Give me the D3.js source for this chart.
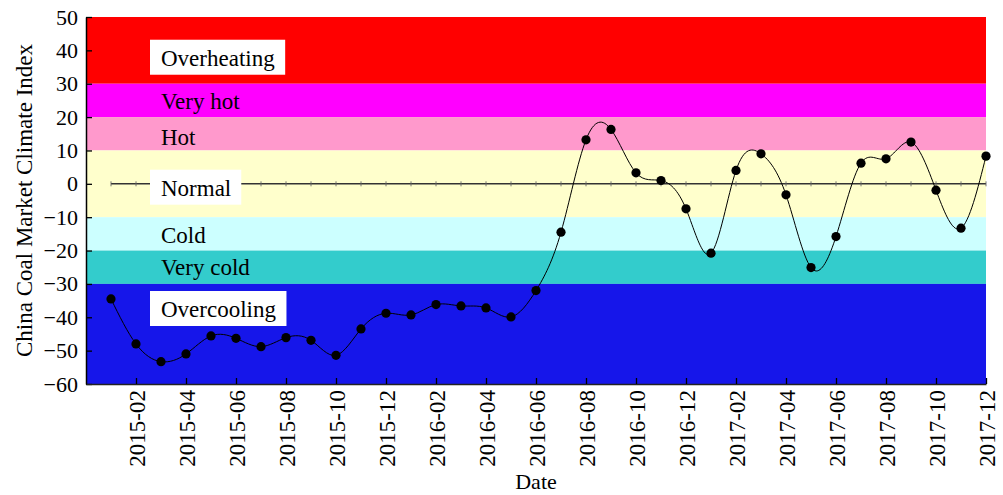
<!DOCTYPE html>
<html>
<head>
<meta charset="utf-8">
<script src="https://cdn.jsdelivr.net/npm/d3@7/dist/d3.min.js"></script>
<style>
  html, body { margin: 0; padding: 0; background: #fff; }
  svg { display: block; }
  text { font-family: "Liberation Serif", "Times New Roman", serif; fill: #000; }
</style>
</head>
<body>
<svg id="chart" width="1003" height="495"></svg>
<script>
// Monthly China Coal Market Climate Index, 2015-01 .. 2017-12
const months = [
  "2015-01","2015-02","2015-03","2015-04","2015-05","2015-06","2015-07","2015-08","2015-09","2015-10","2015-11","2015-12",
  "2016-01","2016-02","2016-03","2016-04","2016-05","2016-06","2016-07","2016-08","2016-09","2016-10","2016-11","2016-12",
  "2017-01","2017-02","2017-03","2017-04","2017-05","2017-06","2017-07","2017-08","2017-09","2017-10","2017-11","2017-12"
];
const indexValues = [
  -34.5, -48.0, -53.3, -51.0, -45.6, -46.3, -48.8, -46.1, -46.9, -51.4, -43.5, -38.8,
  -39.3, -36.2, -36.6, -37.2, -39.9, -32.0, -14.5, 13.2, 16.3, 3.3, 1.0, -7.5,
  -20.8, 4.0, 9.0, -3.3, -25.1, -15.8, 6.2, 7.5, 12.5, -1.9, -13.3, 8.3
];

// Climate zones (lower bound, upper bound)
const zoneNames  = ["Overheating", "Very hot", "Hot", "Normal", "Cold", "Very cold", "Overcooling"];
const zoneLow    = [30, 20, 10, -10, -20, -30, -60];
const zoneHigh   = [50, 30, 20, 10, -10, -20, -30];
const zoneColors = ["#ff0000", "#ff00ff", "#ff99cc", "#ffffcc", "#ccffff", "#33cccc", "#1616ea"];
const zoneBoxed  = [true, false, false, true, false, false, true];

const yTicks = [-60, -50, -40, -30, -20, -10, 0, 10, 20, 30, 40, 50];
const xTickLabels = ["2015-02","2015-04","2015-06","2015-08","2015-10","2015-12","2016-02","2016-04",
  "2016-06","2016-08","2016-10","2016-12","2017-02","2017-04","2017-06","2017-08","2017-10","2017-12"];

const svg = d3.select("#chart");
const plotLeft = 86, plotRight = 986, plotTop = 17, plotBottom = 384;

// month index: 0 = 2014-12, 1 = 2015-01, ... 36 = 2017-12
const monthIndex = m => { const [yy, mm] = m.split("-").map(Number); return (yy - 2014) * 12 + mm - 12; };

const x = d3.scaleLinear().domain([0, 36]).range([plotLeft, plotRight]);
const y = d3.scaleLinear().domain([-60, 50]).range([plotBottom, plotTop]);

// zone bands
const zones = zoneNames.map((n, i) => ({ name: n, lo: zoneLow[i], hi: zoneHigh[i], color: zoneColors[i], boxed: zoneBoxed[i] }));
svg.append("g").selectAll("rect").data(zones).join("rect")
  .attr("x", x(0)).attr("width", x(36) - x(0))
  .attr("y", d => y(d.hi)).attr("height", d => y(d.lo) - y(d.hi))
  .attr("fill", d => d.color);

// zero reference line with small monthly ticks
const zeroG = svg.append("g");
zeroG.append("line")
  .attr("x1", x(1)).attr("x2", x(36)).attr("y1", y(0)).attr("y2", y(0))
  .attr("stroke", "#333").attr("stroke-width", 1.4);
zeroG.selectAll("line.mt").data(d3.range(1, 37)).join("line").attr("class", "mt")
  .attr("x1", d => x(d)).attr("x2", d => x(d))
  .attr("y1", y(0) - 2.5).attr("y2", y(0) + 2.5)
  .attr("stroke", "#666").attr("stroke-width", 0.9);

// zone labels (baseline offsets above each band's lower edge)
const labelOffset = { "Overheating": 18, "Very hot": 8, "Hot": 5.5, "Normal": 21.5, "Cold": 7.5, "Very cold": 9, "Overcooling": 67 };
const labelG = svg.append("g");
zones.forEach(z => {
  const g = labelG.append("g");
  const t = g.append("text")
    .attr("x", x(3)).attr("y", y(z.lo) - labelOffset[z.name])
    .attr("font-size", 23).text(z.name);
  if (z.boxed) {
    const b = t.node().getBBox();
    g.insert("rect", "text")
      .attr("x", b.x - 11).attr("y", b.y - 6)
      .attr("width", b.width + 21).attr("height", b.height + 10)
      .attr("fill", "#fff");
  }
});

// index curve and markers
const pts = months.map((m, i) => ({ i: monthIndex(m), v: indexValues[i] }));
svg.append("path").datum(pts)
  .attr("d", d3.line().x(d => x(d.i)).y(d => y(d.v)).curve(d3.curveNatural))
  .attr("fill", "none").attr("stroke", "#000").attr("stroke-width", 1);
svg.append("g").selectAll("circle").data(pts).join("circle")
  .attr("cx", d => x(d.i)).attr("cy", d => y(d.v)).attr("r", 4.6).attr("fill", "#000");

// axes
const yAxis = d3.axisLeft(y).tickValues(yTicks).tickSizeInner(-6).tickSizeOuter(0).tickPadding(8);
const yg = svg.append("g").attr("transform", `translate(${plotLeft},0)`).call(yAxis);
yg.select(".domain").attr("stroke", "#000").attr("stroke-width", 1.5);
yg.selectAll(".tick line").attr("stroke", "#000").attr("stroke-width", 1.3);
yg.selectAll(".tick text").attr("font-size", 22).attr("font-family", "Liberation Serif");

const xAxis = d3.axisBottom(x)
  .tickValues(xTickLabels.map(monthIndex))
  .tickFormat((d, i) => xTickLabels[i])
  .tickSizeInner(-6).tickSizeOuter(0);
const xg = svg.append("g").attr("transform", `translate(0,${plotBottom})`).call(xAxis);
xg.select(".domain").attr("stroke", "#222").attr("stroke-width", 1.5);
xg.selectAll(".tick line").attr("stroke", "#000").attr("stroke-width", 1.3);
xg.selectAll(".tick text")
  .attr("font-size", 23).attr("font-family", "Liberation Serif")
  .attr("text-anchor", "end")
  .attr("transform", "rotate(-90)")
  .attr("x", -6).attr("y", 0).attr("dy", "0.35em");

// axis titles
svg.append("text")
  .attr("transform", `translate(32,${(plotTop + plotBottom) / 2}) rotate(-90)`)
  .attr("text-anchor", "middle").attr("font-size", 23)
  .text("China Coal Market Climate Index");
svg.append("text")
  .attr("x", (plotLeft + plotRight) / 2).attr("y", 489)
  .attr("text-anchor", "middle").attr("font-size", 22)
  .text("Date");
</script>
</body>
</html>
